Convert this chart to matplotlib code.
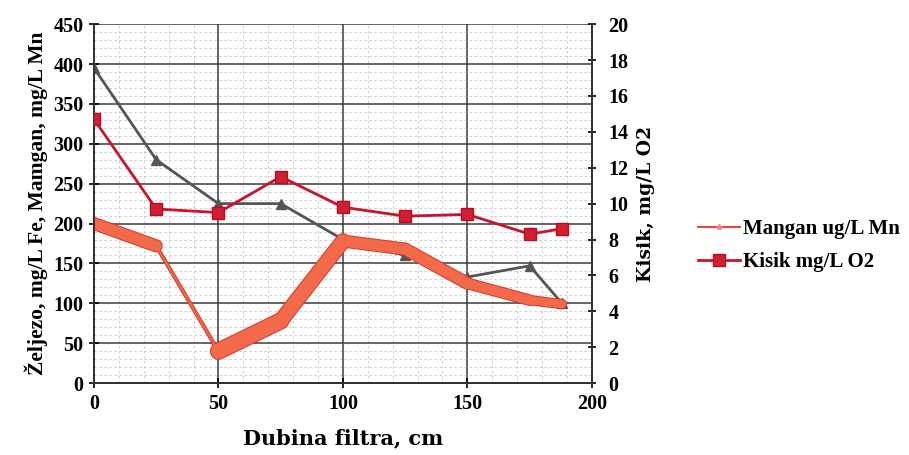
import numpy as np
import matplotlib
matplotlib.use('Agg')
import matplotlib.pyplot as plt
from matplotlib.collections import LineCollection
from matplotlib.ticker import MultipleLocator

# depth along the filter, cm
dubina = [0, 25, 50, 75, 100, 125, 150, 175, 188]
# iron (grey triangles), left axis
zeljezo = [395, 280, 225, 225, 180, 160, 133, 147, 100]
# manganese (thick band), left axis
mangan = [200, 172, 40, 78, 178, 168, 125, 104, 99]
# oxygen (red squares), right axis
kisik = [14.7, 9.7, 9.5, 11.5, 9.8, 9.3, 9.4, 8.3, 8.6]

FONT = 'Liberation Serif'
plt.rcParams['font.family'] = FONT
plt.rcParams['font.weight'] = 'bold'

fig = plt.figure(figsize=(9.09, 4.55), dpi=100, facecolor='white')
ax = fig.add_axes((0.1034, 0.158, 0.5477, 0.789))
ax2 = ax.twinx()

ax.set_xlim(0, 200)
ax.set_ylim(0, 450)
ax2.set_ylim(0, 20)

# grid: solid majors, dotted minors
ax.xaxis.set_major_locator(MultipleLocator(50))
ax.xaxis.set_minor_locator(MultipleLocator(10))
ax.yaxis.set_major_locator(MultipleLocator(50))
ax.yaxis.set_minor_locator(MultipleLocator(10))
ax2.yaxis.set_major_locator(MultipleLocator(2))
ax.grid(which='major', color='#3a3a3a', lw=1.1)
ax.grid(which='minor', color='#a8b0c0', lw=0.6, ls=(0, (3, 3)), alpha=0.7)
ax.set_axisbelow(True)

for a in (ax, ax2):
    a.spines['top'].set_visible(False)
    for s in ('left', 'right', 'bottom'):
        a.spines[s].set_color('#333333')
        a.spines[s].set_linewidth(1.4)

ax.tick_params(which='major', direction='inout', length=7, width=1.2, labelsize=14.5, pad=4)
ax.tick_params(which='minor', length=0)
ax2.tick_params(direction='inout', length=6, width=1.2, labelsize=14.5, pad=9)

# iron
ax.plot(dubina, zeljezo, color='#555555', lw=2, marker='^', ms=7,
        markerfacecolor='#555555', markeredgecolor='#555555', zorder=3)

# manganese: thin core line + wide band with a darker rim
ax.plot(dubina, mangan, color='#606060', lw=2.2, zorder=3)
mn_line, = ax.plot(dubina, mangan, color='#e04a3a', lw=1.5, marker='*', ms=4,
                   markerfacecolor='#f7b0a0', markeredgecolor='#f08070',
                   label='Mangan ug/L Mn', zorder=4)
pts = np.column_stack([dubina, mangan])
segs = np.stack([pts[:-1], pts[1:]], axis=1)
widths = np.array([8, 1.5, 11, 10, 8, 8, 7, 6])
rim = LineCollection(segs, linewidths=widths + 1.4, colors='#d2382a',
                     capstyle='round', zorder=5)
band = LineCollection(segs, linewidths=widths, colors='#f26a4a',
                      capstyle='round', zorder=5)
ax.add_collection(rim)
ax.add_collection(band)

# oxygen on the right axis
ox_line, = ax2.plot(dubina, kisik, color='#c8142a', lw=2, marker='s', ms=9,
                    markerfacecolor='#d21e32', markeredgecolor='#b01020',
                    label='Kisik mg/L O2', zorder=6)

ax.set_xlabel('Dubina filtra, cm', fontsize=15, fontweight='bold',
              family='DejaVu Serif', labelpad=11)
ax.set_ylabel('Željezo, mg/L Fe, Mamgan, mg/L Mn', fontsize=15.5, fontweight='bold', labelpad=4)
ax2.set_ylabel('Kisik, mg/L O2', fontsize=13.5, fontweight='bold',
               family='DejaVu Serif', labelpad=6)

fig.legend(handles=[mn_line, ox_line], loc='center left', bbox_to_anchor=(0.768, 0.46),
           frameon=False, fontsize=15, handlelength=2.0, handletextpad=0.15,
           labelspacing=0.6, borderpad=0, borderaxespad=0)

fig.savefig('out.png', dpi=100, facecolor='white')
